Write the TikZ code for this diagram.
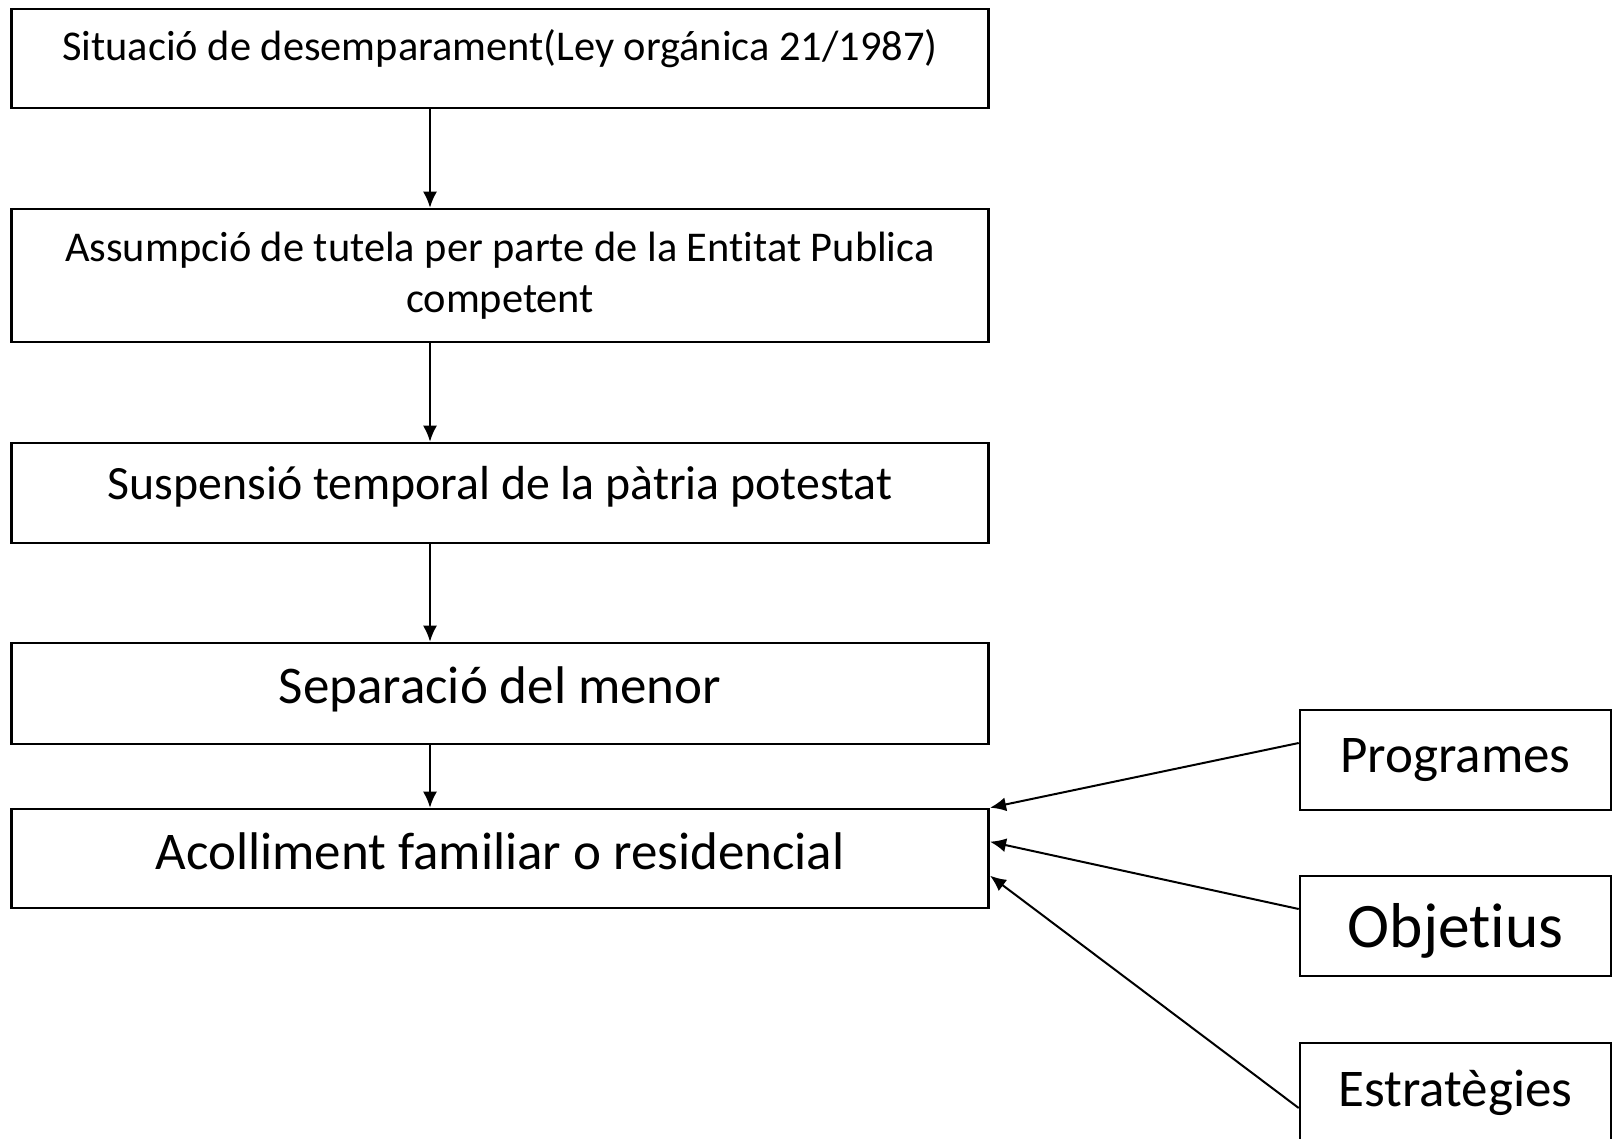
\documentclass[tikz,border=0pt]{standalone}
\usepackage{fontspec}
\setmainfont{Carlito}[RawFeature={-liga;-clig;-calt;-dlig}]
\usetikzlibrary{arrows.meta}
\tikzset{
  box/.style={draw,line width=1.3pt,inner sep=0pt,align=center},
  wide/.style={box,minimum width=488.75pt},
  side/.style={box,minimum width=155.5pt,minimum height=50pt,font=\fontsize{26.5}{31.8}\selectfont},
  arr/.style={line width=1pt,-{Latex[length=8pt,width=7pt]}}
}
\begin{document}
\begin{tikzpicture}[x=0.5pt,y=-0.5pt]
\useasboundingbox(0,0)rectangle(1621,1139);
\node[wide,minimum height=49.5pt,text height=26pt,text depth=23.5pt,font=\fontsize{21.2}{25.5}\selectfont](b1)at(500,58.5){Situació de desemparament(Ley orgánica 21/1987)};
\node[wide,minimum height=66.5pt,font=\fontsize{21.2}{25.5}\selectfont](b2)at(500,275.5){Assumpció de tutela per parte de la Entitat Publica\\competent};
\node[wide,minimum height=50pt,text height=18pt,text depth=12pt,font=\fontsize{23.9}{28.7}\selectfont](b3)at(500,493){Suspensió temporal de la pàtria potestat};
\node[wide,minimum height=50.5pt,text height=20pt,text depth=10.5pt,font=\fontsize{26.5}{31.8}\selectfont](b4)at(500,693.5){Separació del menor};
\node[wide,minimum height=49.5pt,text height=20pt,text depth=9.5pt,font=\fontsize{26.5}{31.8}\selectfont](b5)at(500,858.5){Acolliment familiar o residencial};
\node[side](prog)at(1455.5,760){Programes};
\node[side,text height=24pt,text depth=2.5pt,font=\fontsize{31.7}{38}\selectfont](obj)at(1455.5,926){Objetius};
\node[side](estr)at(1455.5,1093){Estratègies};
% flux vertical
\foreach \a/\b in {b1/b2,b2/b3,b3/b4,b4/b5}
  \draw[arr]([xshift=-35pt]\a.south)--([xshift=-35pt]\b.north);
% entrades laterals
\draw[arr]([yshift=8.5pt]prog.west)--(b5.north east);
\draw[arr]([yshift=8.5pt]obj.west)--([yshift=-17pt]b5.north east);
\draw[arr]([yshift=-7.5pt]estr.west)--([yshift=-34pt]b5.north east);
\end{tikzpicture}
\end{document}
